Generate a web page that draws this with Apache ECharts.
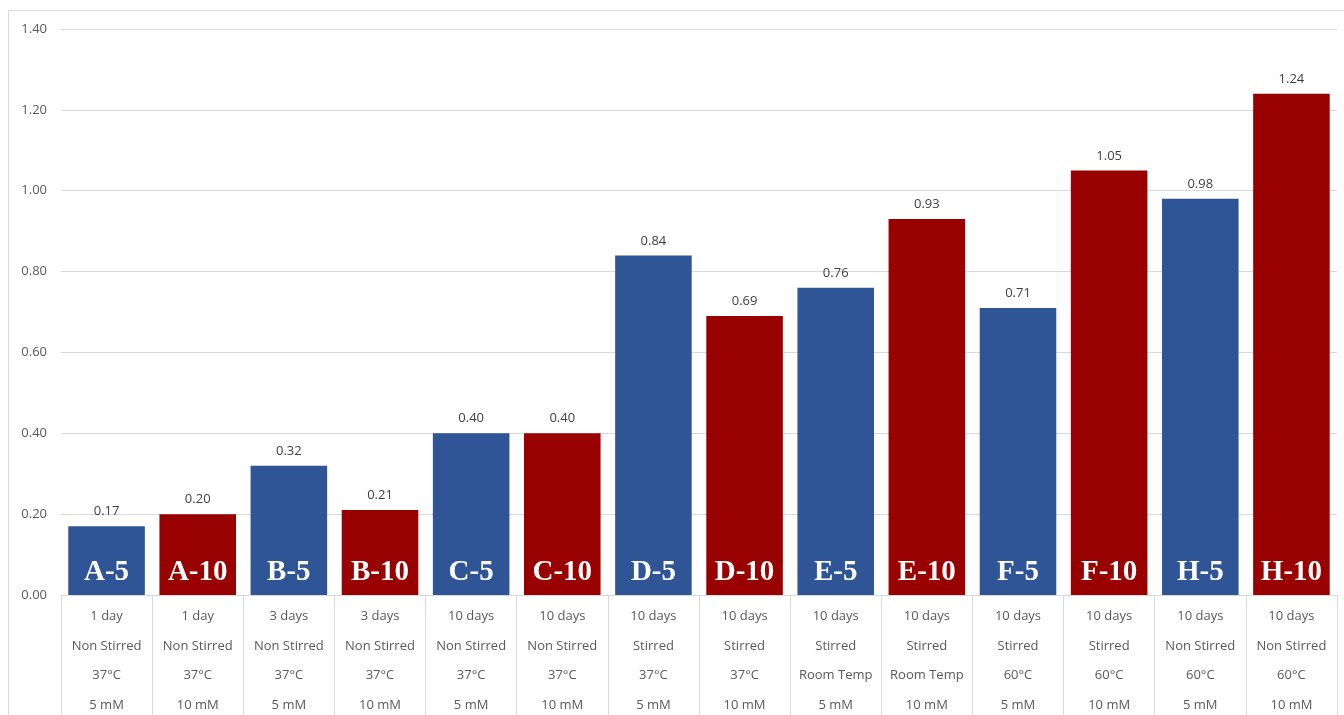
<!DOCTYPE html>
<html>
<head>
<meta charset="utf-8">
<script src="https://cdn.jsdelivr.net/npm/echarts@6/dist/echarts.min.js"></script>
<style>
  html, body { margin: 0; padding: 0; background: #ffffff; }
  #chart { width: 1344px; height: 715px; }
</style>
</head>
<body>
<div id="chart"></div>
<script>
// Sample codes shown inside each bar
const sampleCodes = ['A-5', 'A-10', 'B-5', 'B-10', 'C-5', 'C-10', 'D-5', 'D-10', 'E-5', 'E-10', 'F-5', 'F-10', 'H-5', 'H-10'];
// Condition rows under the axis
const durations = ['1 day', '1 day', '3 days', '3 days', '10 days', '10 days', '10 days', '10 days', '10 days', '10 days', '10 days', '10 days', '10 days', '10 days'];
const stirring = ['Non Stirred', 'Non Stirred', 'Non Stirred', 'Non Stirred', 'Non Stirred', 'Non Stirred', 'Stirred', 'Stirred', 'Stirred', 'Stirred', 'Stirred', 'Stirred', 'Non Stirred', 'Non Stirred'];
const temperatures = ['37°C', '37°C', '37°C', '37°C', '37°C', '37°C', '37°C', '37°C', 'Room Temp', 'Room Temp', '60°C', '60°C', '60°C', '60°C'];
const concentrations = ['5 mM', '10 mM', '5 mM', '10 mM', '5 mM', '10 mM', '5 mM', '10 mM', '5 mM', '10 mM', '5 mM', '10 mM', '5 mM', '10 mM'];
// Measured values
const values = [0.17, 0.20, 0.32, 0.21, 0.40, 0.40, 0.84, 0.69, 0.76, 0.93, 0.71, 1.05, 0.98, 1.24];
// Y-axis ticks
const yTicks = [0, 0.2, 0.4, 0.6, 0.8, 1.0, 1.2, 1.4];

const BLUE = '#2f5597';
const RED = '#990000';

const categories = durations.map((d, i) =>
  [d, stirring[i], temperatures[i], concentrations[i]].join('\n'));

const chart = echarts.init(document.getElementById('chart'));

chart.setOption({
  animation: false,
  backgroundColor: '#ffffff',
  graphic: [
    { type: 'line', shape: { x1: 8.5, y1: 10.5, x2: 1344, y2: 10.5 }, style: { stroke: '#d9d9d9', lineWidth: 1 }, silent: true },
    { type: 'line', shape: { x1: 8.5, y1: 10.5, x2: 8.5, y2: 715 }, style: { stroke: '#d9d9d9', lineWidth: 1 }, silent: true }
  ],
  grid: { left: 61, right: 7, top: 29, bottom: 120, containLabel: false, outerBoundsMode: 'none' },
  xAxis: {
    type: 'category',
    data: categories,
    axisLine: { show: true, lineStyle: { color: '#d9d9d9', width: 1 } },
    axisTick: { show: true, length: 125, alignWithLabel: false, lineStyle: { color: '#d9d9d9', width: 1 } },
    axisLabel: {
      interval: 0,
      margin: 7,
      color: '#595959',
      fontFamily: 'Open Sans, Noto Sans, sans-serif',
      fontSize: 13,
      lineHeight: 29.5
    }
  },
  yAxis: {
    type: 'value',
    min: yTicks[0],
    max: yTicks[yTicks.length - 1],
    interval: 0.2,
    axisLine: { show: false },
    axisTick: { show: false },
    splitLine: { lineStyle: { color: '#d9d9d9', width: 1 } },
    axisLabel: {
      margin: 14,
      color: '#595959',
      fontFamily: 'Open Sans, Noto Sans, sans-serif',
      fontSize: 13,
      formatter: v => v.toFixed(2)
    }
  },
  series: [
    {
      type: 'bar',
      barCategoryGap: '16%',
      data: values.map((v, i) => ({
        value: v,
        itemStyle: { color: i % 2 === 0 ? BLUE : RED }
      })),
      label: {
        show: true,
        position: 'insideBottom',
        distance: 8,
        color: '#ffffff',
        fontFamily: 'Liberation Serif, Times New Roman, serif',
        fontWeight: 'bold',
        fontSize: 29,
        formatter: p => sampleCodes[p.dataIndex]
      },
      z: 2
    },
    {
      type: 'bar',
      barGap: '-100%',
      barCategoryGap: '16%',
      data: values,
      itemStyle: { color: 'rgba(0,0,0,0)' },
      label: {
        show: true,
        position: 'top',
        distance: 8,
        color: '#404040',
        fontFamily: 'Open Sans, Noto Sans, sans-serif',
        fontSize: 13,
        formatter: p => p.value.toFixed(2)
      },
      silent: true,
      z: 3
    }
  ]
});
</script>
</body>
</html>
